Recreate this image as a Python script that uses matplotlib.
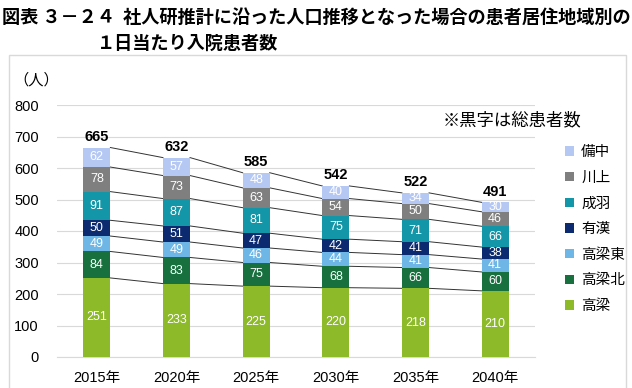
import matplotlib
matplotlib.use("Agg")
import matplotlib.pyplot as plt
import numpy as np
from matplotlib.patches import Rectangle, Patch

plt.rcParams['font.family'] = ['Liberation Sans', 'Noto Sans CJK JP', 'DejaVu Sans']

years = ["2015年", "2020年", "2025年", "2030年", "2035年", "2040年"]
series_names = ["高梁", "高梁北", "高梁東", "有漢", "成羽", "川上", "備中"]
takahashi = [251, 233, 225, 220, 218, 210]
takahashi_kita = [84, 83, 75, 68, 66, 60]
takahashi_higashi = [49, 49, 46, 44, 41, 41]
uka = [50, 51, 47, 42, 41, 38]
nariwa = [91, 87, 81, 75, 71, 66]
kawakami = [78, 73, 63, 54, 50, 46]
bitchu = [62, 57, 48, 40, 34, 30]
totals = [665, 632, 585, 542, 522, 491]
colors = ["#8cba28", "#17703e", "#6db6e6", "#0c2a70", "#1397a8", "#7f7f7f", "#b5c8f4"]

data = [takahashi, takahashi_kita, takahashi_higashi, uka, nariwa, kawakami, bitchu]

fig = plt.figure(figsize=(6.32, 3.88), dpi=100)
fig.patches.append(Rectangle((9/632, -0.01), (626-9)/632, 1 - 55/388 + 0.01,
                             transform=fig.transFigure, fill=False,
                             edgecolor="#d9d9d9", linewidth=1.0))
title_font = ['Noto Sans CJK JP', 'DejaVu Sans']
fig.text(2/632, 1 - 17/388, "図表 ３－２４  社人研推計に沿った人口推移となった場合の患者居住地域別の",
         fontsize=13.1, fontweight='bold', va='center', ha='left', family=title_font)
fig.text(97/632, 1 - 43/388, "１日当たり入院患者数",
         fontsize=13.1, fontweight='bold', va='center', ha='left', family=title_font)

ax = fig.add_axes([57/632, 1 - 357/388, (535-57)/632, (357-105)/388])
x = np.arange(len(years))
w = 0.34
bottom = np.zeros(len(years))
cum_tops = []
for vals, c, name in zip(data, colors, series_names):
    vals = np.array(vals, dtype=float)
    ax.bar(x, vals, w, bottom=bottom, color=c, label=name, zorder=3)
    for xi, b, v in zip(x, bottom, vals):
        ax.text(xi, b + v / 2, f"{int(v)}", ha='center', va='center',
                color='white', fontsize=9, zorder=4)
    bottom = bottom + vals
    cum_tops.append(bottom.copy())

for tops in cum_tops:
    for i in range(len(x) - 1):
        ax.plot([x[i] + w/2, x[i+1] - w/2], [tops[i], tops[i+1]],
                color='#333333', linewidth=0.7, zorder=2)

for xi, t, top in zip(x, totals, cum_tops[-1]):
    ax.text(xi, top + 12, str(t), ha='center', va='bottom', fontsize=10.5,
            fontweight='bold', color='black')

ax.set_xlim(-0.5, 5.5)
ax.set_ylim(0, 800)
ax.set_yticks(range(0, 801, 100))
ax.set_xticks(x)
ax.set_xticklabels(years, fontsize=10.5)
ax.tick_params(axis='y', labelsize=10.5, length=0, pad=13)
ax.tick_params(axis='x', length=0, pad=10)
ax.grid(axis='y', color='#d9d9d9', linewidth=0.8, zorder=0)
for s in ['top', 'right', 'left']:
    ax.spines[s].set_visible(False)
ax.spines['bottom'].set_color('#d9d9d9')

fig.text(13/632, 1 - 80/388, "（人）", fontsize=11, va='center', ha='left')
fig.text(443/632, 1 - 120/388, "※黒字は総患者数", fontsize=12.5, va='center', ha='left')

handles = [Patch(facecolor=c, edgecolor='none') for c in colors][::-1]
labels = series_names[::-1]
leg = fig.legend(handles, labels, loc='upper left', bbox_to_anchor=(552/632, 1 - 132/388),
                 frameon=False, fontsize=10.5, handlelength=0.6, handleheight=0.6,
                 handletextpad=0.5, labelspacing=0.8)

fig.savefig("out.png", dpi=100)
